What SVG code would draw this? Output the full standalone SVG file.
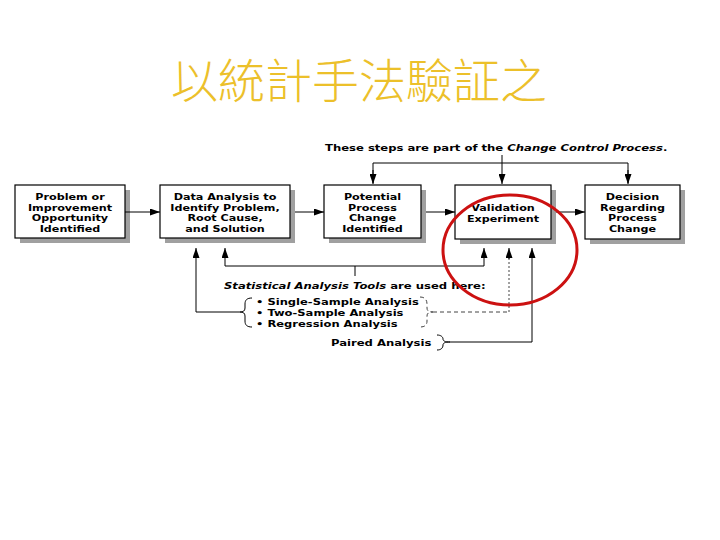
<svg xmlns="http://www.w3.org/2000/svg" width="720" height="540" viewBox="0 0 720 540">
<style>
.box{fill:#fff;stroke:#000;stroke-width:1.2}
.sh{fill:#a0a0a0}
.t{font-family:"DejaVu Sans",sans-serif;font-weight:bold;font-size:9.3px;fill:#000}
.c{text-anchor:middle}
.ln{fill:none;stroke:#000;stroke-width:1}
.dash{fill:none;stroke:#444;stroke-width:1;stroke-dasharray:4 3}
.dot{fill:none;stroke:#444;stroke-width:1;stroke-dasharray:2 2}
.title{font-family:"Noto Sans CJK TC","Noto Sans CJK SC",sans-serif;font-weight:300;font-size:47px;fill:#ecc02a}
</style>
<defs>
<marker id="ah" markerWidth="10" markerHeight="7" refX="10" refY="3.5" orient="auto" markerUnits="userSpaceOnUse">
<path d="M0,0 L10,3.5 L0,7 z" fill="#000"/>
</marker>
</defs>
<rect width="720" height="540" fill="#fff"/>
<text class="title" x="171" y="98">以統計手法驗証之</text>

<g id="n1">
<rect class="sh" x="20" y="190" width="110" height="53"/>
<rect class="box" x="15" y="185" width="110" height="53"/>
<g transform="translate(70,0) scale(1.2,1)">
<text class="t c" x="0" y="200">Problem or</text>
<text class="t c" x="0" y="210.7">Improvement</text>
<text class="t c" x="0" y="221.3">Opportunity</text>
<text class="t c" x="0" y="232">Identified</text>
</g>
</g>
<g id="n2">
<rect class="sh" x="165" y="190" width="130" height="53"/>
<rect class="box" x="160" y="185" width="130" height="53"/>
<g transform="translate(225,0) scale(1.2,1)">
<text class="t c" x="0" y="200">Data Analysis to</text>
<text class="t c" x="0" y="210.7">Identify Problem,</text>
<text class="t c" x="0" y="221.3">Root Cause,</text>
<text class="t c" x="0" y="232">and Solution</text>
</g>
</g>
<g id="n3">
<rect class="sh" x="329" y="190" width="97" height="53"/>
<rect class="box" x="324" y="185" width="97" height="53"/>
<g transform="translate(372.5,0) scale(1.2,1)">
<text class="t c" x="0" y="200">Potential</text>
<text class="t c" x="0" y="210.7">Process</text>
<text class="t c" x="0" y="221.3">Change</text>
<text class="t c" x="0" y="232">Identified</text>
</g>
</g>
<g id="n4">
<rect class="sh" x="460" y="190" width="96" height="54"/>
<rect class="box" x="455" y="185" width="96" height="54"/>
<g transform="translate(503,0) scale(1.2,1)">
<text class="t c" x="0" y="211">Validation</text>
<text class="t c" x="0" y="222">Experiment</text>
</g>
</g>
<g id="n5">
<rect class="sh" x="590" y="190" width="95" height="54"/>
<rect class="box" x="585" y="185" width="95" height="54"/>
<g transform="translate(632.5,0) scale(1.2,1)">
<text class="t c" x="0" y="200">Decision</text>
<text class="t c" x="0" y="210.7">Regarding</text>
<text class="t c" x="0" y="221.3">Process</text>
<text class="t c" x="0" y="232">Change</text>
</g>
</g>

<g id="labels">
<g transform="translate(325,0) scale(1.25,1)">
<text class="t" x="0" y="151">These steps are part of the <tspan font-style="italic">Change Control Process</tspan>.</text>
</g>
<g transform="translate(224,0) scale(1.25,1)">
<text class="t" x="0" y="289"><tspan font-style="italic">Statistical Analysis Tools</tspan> are used here:</text>
</g>
<g transform="translate(256,0) scale(1.24,1)">
<text class="t" x="0" y="305">• Single-Sample Analysis</text>
<text class="t" x="0" y="316">• Two-Sample Analysis</text>
<text class="t" x="0" y="327">• Regression Analysis</text>
</g>
<g transform="translate(331,0) scale(1.25,1)">
<text class="t" x="0" y="346">Paired Analysis</text>
</g>
</g>

<g id="connectors">
<line class="ln" x1="125" y1="212" x2="160" y2="212" marker-end="url(#ah)"/>
<line class="ln" x1="295" y1="212" x2="324" y2="212" marker-end="url(#ah)"/>
<line class="ln" x1="426" y1="212" x2="455" y2="212" marker-end="url(#ah)"/>
<line class="ln" x1="556" y1="212" x2="585" y2="212" marker-end="url(#ah)"/>
<polyline class="ln" points="373,183 373,163 628,163 628,183"/>
<line class="ln" x1="373" y1="170" x2="373" y2="184" marker-end="url(#ah)"/>
<line class="ln" x1="628" y1="170" x2="628" y2="184" marker-end="url(#ah)"/>
<line class="ln" x1="502" y1="155" x2="502" y2="184" marker-end="url(#ah)"/>
<polyline class="ln" points="240,312 196,312 196,248" marker-end="url(#ah)"/>
<polyline class="ln" points="355,276 355,266 225,266 225,248" marker-end="url(#ah)"/>
<polyline class="ln" points="355,266 484,266 484,248" marker-end="url(#ah)"/>
<path class="ln" d="M252,298 C247,298 245,300 245,304 L245,308 C245,311 243,312 240,312 C243,312 245,313 245,316 L245,321 C245,325 247,327 252,327"/>
<path class="dash" d="M420,297 C425,297 427,300 427,304 L427,308 C427,311 429,312 433,312 C429,312 427,313 427,316 L427,321 C427,325 425,327 420,327"/>
<polyline class="dash" points="433,312 509,312"/>
<line class="dot" x1="509" y1="312" x2="509" y2="258"/>
<line class="ln" x1="509" y1="259" x2="509" y2="248" marker-end="url(#ah)"/>
<path class="ln" d="M437,335 C441,335 443,337 443,339 C443,341 445,342 450,342 C445,342 443,343 443,345 C443,348 441,350 437,350"/>
<polyline class="ln" points="450,342 532,342 532,248" marker-end="url(#ah)"/>
</g>
<ellipse cx="510" cy="250" rx="67" ry="55" fill="none" stroke="#cc1111" stroke-width="3"/>
</svg>
